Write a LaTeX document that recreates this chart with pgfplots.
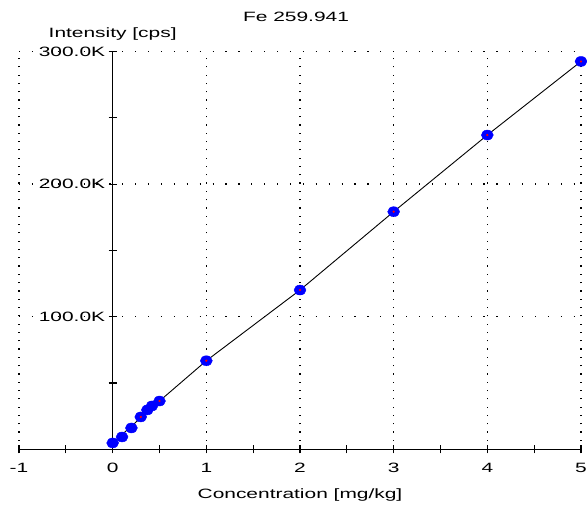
\documentclass[border=0pt]{standalone}
\usepackage{fontspec}
\setmainfont{Liberation Sans}[FakeStretch=1.55]
\usepackage{pgfplots}
\pgfplotsset{compat=1.18}
\newcommand\f{\fontsize{13.5bp}{16bp}\selectfont}
\begin{document}
\begin{tikzpicture}
\begin{axis}[
  at={(19bp,62.7bp)}, anchor=south west,
  scale only axis, width=562bp, height=397.8bp,
  xmin=-1, xmax=5, ymin=0, ymax=300000,
  axis x line=bottom, axis y line=middle,
  axis line style={-, black, line width=1.3bp},
  hide obscured x ticks=false, hide obscured y ticks=false,
  xtick={-1,0,1,2,3,4,5}, xticklabels={-1,0,1,2,3,4,5},
  minor xtick={-0.5,0.5,1.5,2.5,3.5,4.5},
  ytick={100000,200000,300000}, yticklabels={100.0K,200.0K,300.0K},
  minor ytick={50000,150000,250000},
  scaled y ticks=false,
  tick align=center, major tick length=8bp, minor tick length=8bp,
  every tick/.style={black, line width=1.1bp},
  xmajorgrids, ymajorgrids,
  major x grid style={black, line width=1.2bp, dash pattern=on 1.2bp off 7.1bp},
  major y grid style={black, line width=1.2bp, dash pattern=on 1.2bp off 11.7bp},
  xticklabel style={font=\f, anchor=north, yshift=-6bp},
  yticklabel style={font=\f, anchor=east},
  title={Fe 259.941},
  every axis title/.style={at={(rel axis cs:0.493,1)}, anchor=base, yshift=29.5bp, font=\f},
  ylabel={Intensity [cps]},
  every axis y label/.style={at={(axis cs:0,300000)}, anchor=base, yshift=13.5bp, font=\f},
  xlabel={Concentration [mg/kg]},
  every axis x label/.style={at={(rel axis cs:0.5,0)}, anchor=base, yshift=-48.7bp, font=\f},
  clip=false,
]
\addplot[black, line width=0.9bp, no markers] coordinates {
  (0,4800) (0.5,36400) (1,66800) (2,120100) (3,179200) (4,237000) (5,292500)
};
\addplot[only marks, mark=*, mark size=5bp, mark options={xscale=1.2, draw=blue, fill=blue}] coordinates {
  (0,4800) (0.1,9300) (0.2,16100) (0.3,24400) (0.37,29700) (0.42,32700) (0.5,36400)
  (1,66800) (2,120100) (3,179200) (4,237000) (5,292500)
};
\addplot[only marks, mark=*, mark size=0.9bp, mark options={draw=red, fill=red}] coordinates {
  (0.3,24400) (0.5,36400) (1,66800) (2,120100) (3,179200) (4,237000) (5,292500)
};
\end{axis}
\pgfresetboundingbox
\path (0bp,0bp) rectangle (587bp,512bp);
\end{tikzpicture}
\end{document}
